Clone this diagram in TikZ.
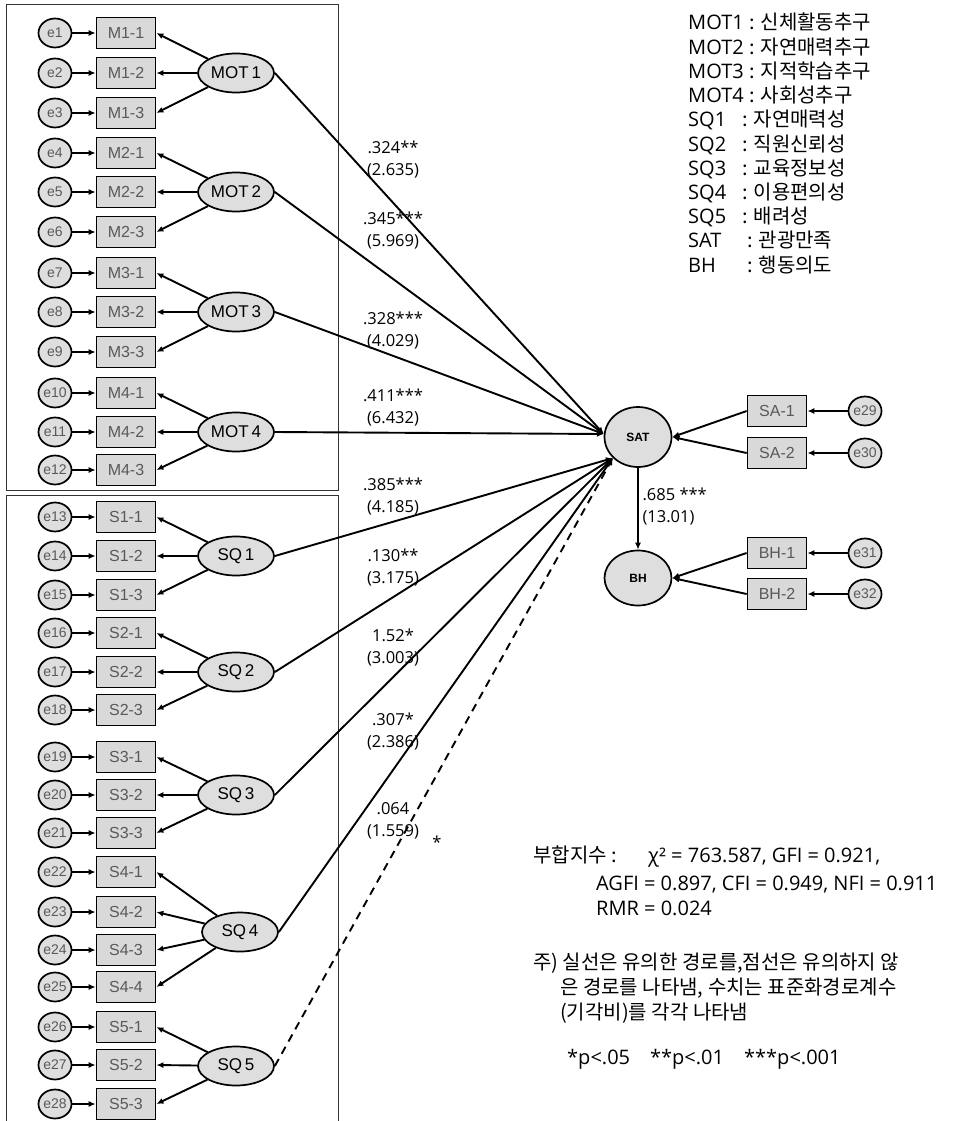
\documentclass[tikz,border=0pt]{standalone}
\usepackage{fontspec}
\setmainfont{Liberation Sans}
\newfontfamily\kr{Noto Sans CJK KR}
\newfontfamily\lat{Open Sans}
\usetikzlibrary{arrows.meta, shapes.geometric}

\begin{document}
\begin{tikzpicture}[x=1pt, y=-1pt,
    err/.style={ellipse, draw, line width=1.7pt, fill=black!13, minimum width=33pt, minimum height=29pt, inner sep=0pt, text=black!65, font=\fontsize{14}{14}\selectfont},
    ind/.style={rectangle, draw, line width=1.7pt, fill=black!15, minimum width=59pt, minimum height=31pt, inner sep=0pt, text=black!65, font=\fontsize{16}{16}\selectfont},
    lat/.style={ellipse, draw, line width=1.7pt, fill=black!13, minimum width=76pt, minimum height=39pt, inner sep=0pt, font=\fontsize{17}{17}\selectfont},
    endo/.style={ellipse, draw, line width=1.7pt, fill=black!13, minimum width=67pt, minimum height=60pt, inner sep=0pt, font=\bfseries\fontsize{12}{12}\selectfont},
    arrow/.style={line width=1.9pt, -{Latex[length=7pt,width=6pt]}},
    coef/.style={align=center, font=\lat\fontsize{16.5}{22}\selectfont},
    note/.style={anchor=base west, inner sep=0pt, font=\kr\fontsize{20}{25}\selectfont},
    frame/.style={line width=1pt, draw=black!80}
]
\useasboundingbox (0,0) rectangle (968,1121);

% measurement model frames
\draw[frame] (6,5) rectangle (338,490);
\draw[frame] (6,1121) -- (6,495) -- (338,495) -- (338,1121);

% error terms and indicators
\foreach \i/\lab/\y in {1/M1-1/33, 2/M1-2/73, 3/M1-3/113, 4/M2-1/153, 5/M2-2/192, 6/M2-3/232,
    7/M3-1/273, 8/M3-2/312, 9/M3-3/352, 10/M4-1/393, 11/M4-2/432, 12/M4-3/470,
    13/S1-1/517, 14/S1-2/556, 15/S1-3/595, 16/S2-1/633, 17/S2-2/672, 18/S2-3/710,
    19/S3-1/757, 20/S3-2/795, 21/S3-3/833, 22/S4-1/872, 23/S4-2/912, 24/S4-3/950, 25/S4-4/987,
    26/S5-1/1027, 27/S5-2/1065, 28/S5-3/1104} {
  \node[err] (e\i) at (55,\y) {e\i};
  \node[ind] (x\i) at (126,\y) {\lab};
  \draw[arrow] (e\i) -- (x\i);
}

% latent variables
\node[lat] (MOT1) at (236,73) {MOT\,1};
\node[lat] (MOT2) at (236,192) {MOT\,2};
\node[lat] (MOT3) at (236,312) {MOT\,3};
\node[lat] (MOT4) at (236,432) {MOT\,4};
\node[lat] (SQ1) at (236,556) {SQ\,1};
\node[lat] (SQ2) at (236,672) {SQ\,2};
\node[lat] (SQ3) at (236,795) {SQ\,3};
\node[lat] (SQ4) at (240,932) {SQ\,4};
\node[lat] (SQ5) at (236,1066) {SQ\,5};

\foreach \lv/\first/\last in {MOT1/1/3, MOT2/4/6, MOT3/7/9, MOT4/10/12, SQ1/13/15,
    SQ2/16/18, SQ3/19/21, SQ4/22/25, SQ5/26/28}
  \foreach \i in {\first,...,\last}
    \draw[arrow] (\lv) -- (x\i.east);

% outcome side
\node[endo] (SAT) at (638,437) {SAT};
\node[endo, minimum height=55pt] (BH) at (638,578) {BH};
\node[ind] (SA1) at (777,411) {SA-1};
\node[ind] (SA2) at (777,453) {SA-2};
\node[ind] (BH1) at (777,553) {BH-1};
\node[ind] (BH2) at (777,594) {BH-2};
\node[err] (e29) at (865,411) {e29};
\node[err] (e30) at (865,453) {e30};
\node[err] (e31) at (865,553) {e31};
\node[err] (e32) at (865,594) {e32};
\draw[arrow] (e29) -- (SA1);
\draw[arrow] (e30) -- (SA2);
\draw[arrow] (e31) -- (BH1);
\draw[arrow] (e32) -- (BH2);
\draw[arrow] (SA1.west) -- (SAT.east);
\draw[arrow] (SA2.west) -- (SAT.east);
\draw[arrow] (BH1.west) -- (BH.east);
\draw[arrow] (BH2.west) -- (BH.east);
\draw[arrow] (SAT) -- (BH);

% structural paths
\foreach \lv in {MOT1,MOT2,MOT3,MOT4}
  \draw[arrow] (\lv.east) -- (SAT.175);
\foreach \lv in {SQ1,SQ2,SQ3,SQ4}
  \draw[arrow] (\lv.east) -- (SAT.220);
\draw[arrow, dashed, dash pattern=on 8pt off 6pt] (SQ5.east) -- (SAT.220);

\node[coef] (c1) at (393,160) {.324**\\(2.635)};
\node[coef] (c2) at (393,231) {.345***\\(5.969)};
\node[coef] (c3) at (393,331) {.328***\\(4.029)};
\node[coef] (c4) at (393,408) {.411***\\(6.432)};
\node[coef] (c5) at (393,497) {.385***\\(4.185)};
\node[coef] (c6) at (393,568) {.130**\\(3.175)};
\node[coef] (c7) at (393,648) {1.52*\\(3.003)};
\node[coef] (c8) at (393,732) {.307*\\(2.386)};
\node[coef] (c9) at (393,821) {.064\\(1.559)};
\node[coef, align=left, anchor=west] (c10) at (639,507) {.685 ***\\(13.01)};
\node[coef] (star) at (437,842) {*};

% legend
\foreach \nm/\ko/\cx [count=\i from 0] in {MOT1/신체활동추구/749, MOT2/자연매력추구/749,
    MOT3/지적학습추구/749, MOT4/사회성추구/749, SQ1/자연매력성/742, SQ2/직원신뢰성/742,
    SQ3/교육정보성/742, SQ4/이용편의성/742, SQ5/배려성/742, SAT/관광만족/747, BH/행동의도/747} {
  \node[note, font=\lat\fontsize{20}{25}\selectfont] (n\i) at (688,{30+24.2*\i}) {\nm};
  \node[note] (k\i) at (\cx,{30+24.2*\i}) {: \ko};
}

% fit indices and notes
\node[note] (fit1) at (533,862) {부합지수 :};
\node[note, font=\lat\fontsize{20}{25}\selectfont] (fit2) at (648,862) {χ² = 763.587, GFI = 0.921,};
\node[note, font=\lat\fontsize{20}{25}\selectfont] (fit3) at (596,890) {AGFI = 0.897, CFI = 0.949, NFI = 0.911};
\node[note, font=\lat\fontsize{20}{25}\selectfont] (fit4) at (596,915) {RMR = 0.024};
\node[note] (note1) at (533,969) {주) 실선은 유의한 경로를,점선은 유의하지 않};
\node[note] (note2) at (560,994) {은 경로를 나타냄, 수치는 표준화경로계수};
\node[note] (note3) at (560,1019) {(기각비)를 각각 나타냄};
\node[note, font=\lat\fontsize{20}{25}\selectfont] (sig) at (567,1064) {*p<.05\quad **p<.01\quad ***p<.001};
\end{tikzpicture}
\end{document}
